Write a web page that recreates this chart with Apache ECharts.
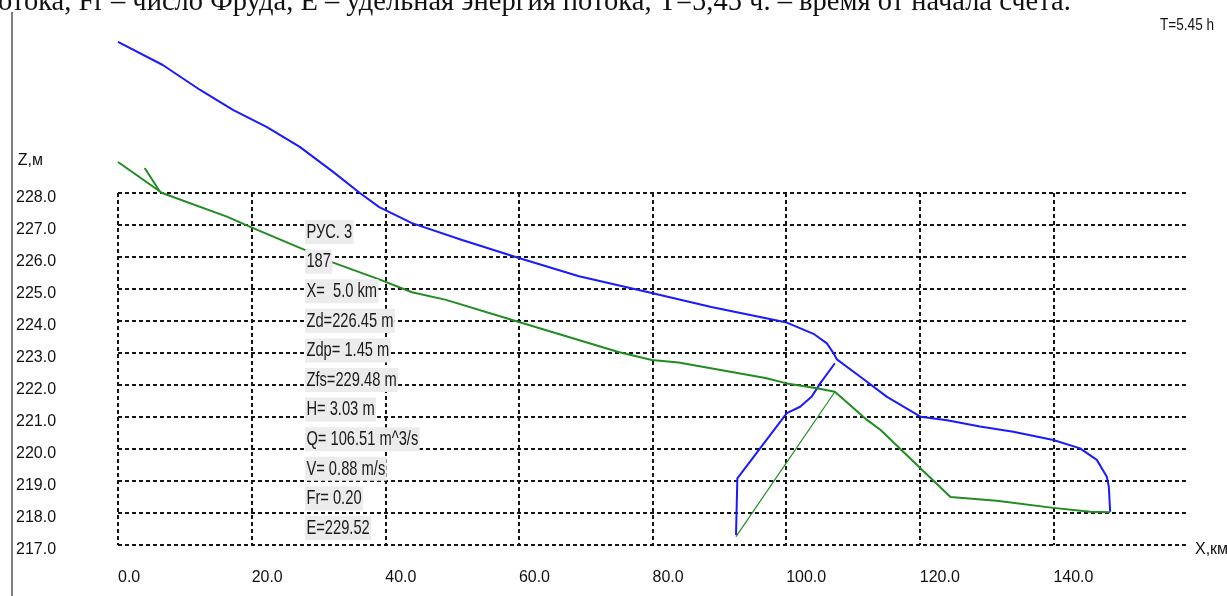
<!DOCTYPE html>
<html>
<head>
<meta charset="utf-8">
<script src="https://cdn.jsdelivr.net/npm/echarts@6/dist/echarts.min.js"></script>
<style>
html,body{margin:0;padding:0;background:#fff;}
#chart{width:1227px;height:596px;}
</style>
</head>
<body>
<div id="chart"></div>
<script>
// ---- data ----
var xTicks = [0, 20, 40, 60, 80, 100, 120, 140];
var yTicks = [217, 218, 219, 220, 221, 222, 223, 224, 225, 226, 227, 228];

// water surface (blue), main profile
var waterX = [0, 6.7, 12.3, 17.2, 22.3, 27.2, 32.2, 36.2, 39.1, 44, 51.5, 60, 69, 79.4, 88.8, 100.1, 104.1, 106.1, 107.1, 107.6, 111.1, 115.1, 120.1, 124.1, 129, 134, 140, 144, 146.5, 148, 148.3, 148.5];
var waterZ = [232.72, 232.0, 231.22, 230.6, 230.06, 229.44, 228.66, 228.0, 227.56, 227.06, 226.53, 225.97, 225.4, 224.9, 224.44, 223.95, 223.6, 223.3, 222.99, 222.8, 222.26, 221.63, 221.01, 220.9, 220.7, 220.54, 220.28, 220.02, 219.66, 219.13, 218.82, 218.04];
// water surface (blue), lower branch
var water2X = [92.5, 92.7, 100.1, 102.1, 103.8, 105.1, 107.3];
var water2Z = [217.31, 219.08, 221.12, 221.32, 221.63, 222.05, 222.68];

// bed (green), main profile
var bedX = [0, 6.6, 16.3, 19.7, 28.2, 32, 39.1, 44, 49.1, 60, 74.9, 79.9, 83.9, 96.9, 100.1, 104.6, 107.3, 112.1, 114.1, 120.1, 124.6, 131.5, 140, 145.5, 148.5];
var bedZ = [228.97, 228.0, 227.26, 226.95, 226.2, 225.84, 225.3, 224.9, 224.66, 223.97, 223.03, 222.78, 222.7, 222.22, 222.05, 221.9, 221.79, 220.91, 220.6, 219.4, 218.5, 218.38, 218.16, 218.04, 218.02];
// bed (green), lower straight branch
var bed2X = [107.3, 92.5];
var bed2Z = [221.79, 217.26];
// section pointer at X = 5 km
var pointerX = [4.0, 6.3];
var pointerZ = [228.78, 228.03];

var infoLines = ['РУС. 3', '187', 'X=  5.0 km', 'Zd=226.45 m', 'Zdp= 1.45 m', 'Zfs=229.48 m', 'H= 3.03 m', 'Q= 106.51 m^3/s', 'V= 0.88 m/s', 'Fr= 0.20', 'E=229.52'];
var timeLabel = 'T=5.45 h';
var headerText = 'отока, Fr – число Фруда, E – удельная энергия потока, T=5,45 ч. – время от начала счета.';

function pairs(xs, ys) { return xs.map(function (x, i) { return [x, ys[i]]; }); }

var SANS = "'Liberation Sans', Arial, sans-serif";
var chart = echarts.init(document.getElementById('chart'), null, {renderer: 'canvas'});

var gridDash = {color: '#151515', width: 2, type: [4, 3]};

var graphics = [
  {type: 'line', shape: {x1: 12, y1: 12, x2: 12, y2: 596}, style: {stroke: '#555', lineWidth: 1.5}, silent: true},
  {type: 'text', x: -2, y: 3, style: {text: headerText, font: "28.5px 'Liberation Serif', serif", fill: '#111', verticalAlign: 'middle'}, silent: true},
  {type: 'text', x: 1160, y: 25, scaleX: 0.8, style: {text: timeLabel, font: "17px " + SANS, fill: '#111', verticalAlign: 'middle'}, silent: true}
];
infoLines.forEach(function (t, i) {
  graphics.push({
    type: 'text', x: 305, y: 232 + 29.6 * i, scaleX: 0.7, z: 100,
    style: {text: t, font: "21px " + SANS, fill: '#1a1a1a', verticalAlign: 'middle', backgroundColor: '#ececec', padding: [2, 2, 1, 2]},
    silent: true
  });
});

function lineSeries(data, color, width) {
  return {type: 'line', data: data, showSymbol: false, symbol: 'none', clip: false, animation: false,
    lineStyle: {color: color, width: width}, itemStyle: {color: color}, z: 10};
}

chart.setOption({
  animation: false,
  grid: {left: 118, right: 40, top: 193, bottom: 51, containLabel: false, outerBoundsMode: 'none'},
  xAxis: {
    type: 'value', min: 0, max: 160, interval: 20,
    name: 'X,км', nameLocation: 'end', nameGap: 8,
    nameTextStyle: {fontFamily: SANS, fontSize: 16, color: '#111', align: 'left', verticalAlign: 'top', lineHeight: 10},
    axisLine: {show: false}, axisTick: {show: false},
    axisLabel: {fontFamily: SANS, fontSize: 16, color: '#111', align: 'left', margin: 25,
      formatter: function (v) { return v >= 160 ? '' : v.toFixed(1); }},
    splitLine: {show: true, showMaxLine: false, lineStyle: gridDash}
  },
  yAxis: {
    type: 'value', min: 217, max: 228, interval: 1,
    name: 'Z,м', nameLocation: 'end', nameGap: 32,
    nameTextStyle: {fontFamily: SANS, fontSize: 16, color: '#111', align: 'right', verticalAlign: 'middle', padding: [0, 75, 0, 0]},
    axisLine: {show: false}, axisTick: {show: false},
    axisLabel: {fontFamily: SANS, fontSize: 16, color: '#111', align: 'left', margin: 102, verticalAlign: 'top', lineHeight: 10,
      formatter: function (v) { return v.toFixed(1); }},
    splitLine: {show: true, lineStyle: gridDash}
  },
  series: [
    lineSeries(pairs(waterX, waterZ), '#1a1aff', 2),
    lineSeries(pairs(water2X, water2Z), '#1a1aff', 2),
    lineSeries(pairs(bedX, bedZ), '#218c21', 2),
    lineSeries(pairs(bed2X, bed2Z), '#218c21', 1.2),
    lineSeries(pairs(pointerX, pointerZ), '#218c21', 2)
  ],
  graphic: graphics
});
</script>
</body>
</html>
